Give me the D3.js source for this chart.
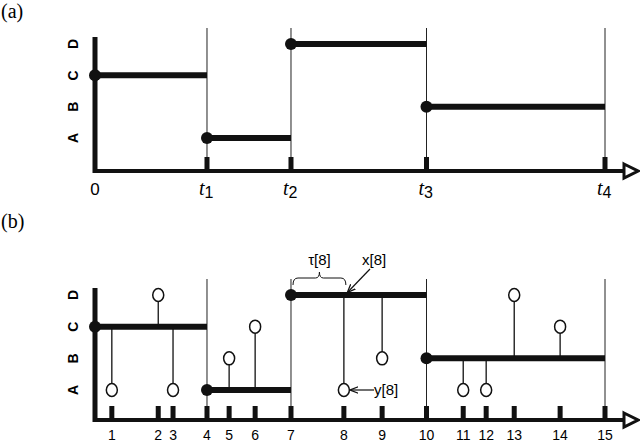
<!DOCTYPE html>
<html><head><meta charset="utf-8">
<script src="https://cdn.jsdelivr.net/npm/d3@7"></script>
<style>body{margin:0;background:#fff}svg{display:block}</style>
</head><body>
<script>
// ---- data ----
const states = ["A", "B", "C", "D"];
const switchTimes = [0, 21.96, 38.43, 65.0, 100];
const switchSubs = ["", "1", "2", "3", "4"];
const segmentStates = ["C", "A", "D", "B"];
const sampleTimes = [3.3, 12.4, 15.3, 21.96, 26.3, 31.4, 38.43, 48.8, 56.3, 65.0, 72.2, 76.7, 82.2, 91.2, 100];
const sampleLabels = ["1","2","3","4","5","6","7","8","9","10","11","12","13","14","15"];
const observations = ["A", "D", "A", null, "B", "C", null, "A", "B", null, "A", "A", "D", "C", null];

const W = 640, H = 442;
const svg = d3.select("body").append("svg").attr("width", W).attr("height", H);
const x = d3.scaleLinear().domain([0, 100]).range([95, 605]);

function stateAt(t) {
  let k = 0;
  for (let i = 0; i < segmentStates.length; i++) if (t >= switchTimes[i] - 1e-9) k = i;
  return segmentStates[k];
}

function panel(cfg) {
  const g = svg.append("g");
  const y = d3.scalePoint().domain(states).range([cfg.yA, cfg.yD]);
  // panel label
  g.append("text").attr("x", 1).attr("y", cfg.labelY).attr("font-family", "Liberation Serif, serif")
    .attr("font-size", 20).text(cfg.label);
  // vertical guide lines
  g.selectAll(".vg").data(switchTimes.slice(1)).enter().append("line")
    .attr("x1", d => x(d)).attr("x2", d => x(d)).attr("y1", cfg.vTop).attr("y2", cfg.axisY)
    .attr("stroke", "#222").attr("stroke-width", 1);
  // ticks
  g.selectAll(".tk").data(cfg.ticks).enter().append("rect")
    .attr("x", d => x(d) - 2.5).attr("y", cfg.axisY - 14).attr("width", 5).attr("height", 14).attr("fill", "#111");
  // axes
  g.append("line").attr("x1", 95).attr("x2", 95).attr("y1", cfg.yTop).attr("y2", cfg.axisY + 2)
    .attr("stroke", "#111").attr("stroke-width", 5);
  g.append("line").attr("x1", 93).attr("x2", 624).attr("y1", cfg.axisY).attr("y2", cfg.axisY)
    .attr("stroke", "#111").attr("stroke-width", 4);
  g.append("path").attr("d", `M624,${cfg.axisY - 7}L638,${cfg.axisY}L624,${cfg.axisY + 7}Z`)
    .attr("fill", "#fff").attr("stroke", "#111").attr("stroke-width", 3);
  // y labels
  g.selectAll(".yl").data(states).enter().append("text")
    .attr("transform", d => `translate(78,${y(d)}) rotate(-90)`)
    .attr("text-anchor", "middle").attr("font-family", "Liberation Sans, Arial, sans-serif")
    .attr("font-weight", "bold").attr("font-size", 14).text(d => d);
  // stems + observations
  if (cfg.obs) {
    const obsData = sampleTimes.map((t, i) => ({t, s: stateAt(t), o: observations[i]})).filter(d => d.o);
    g.selectAll(".st").data(obsData).enter().append("line")
      .attr("x1", d => x(d.t)).attr("x2", d => x(d.t)).attr("y1", d => y(d.s)).attr("y2", d => y(d.o))
      .attr("stroke", "#111").attr("stroke-width", 1.3);
  }
  // segments
  g.selectAll(".seg").data(segmentStates).enter().append("line")
    .attr("x1", (d, i) => x(switchTimes[i])).attr("x2", (d, i) => x(switchTimes[i + 1]))
    .attr("y1", d => y(d)).attr("y2", d => y(d)).attr("stroke", "#111").attr("stroke-width", 6);
  g.selectAll(".dot").data(segmentStates).enter().append("circle")
    .attr("cx", (d, i) => x(switchTimes[i])).attr("cy", d => y(d)).attr("r", 6).attr("fill", "#111");
  if (cfg.obs) {
    const obsData = sampleTimes.map((t, i) => ({t, o: observations[i]})).filter(d => d.o);
    g.selectAll(".oc").data(obsData).enter().append("ellipse")
      .attr("cx", d => x(d.t)).attr("cy", d => y(d.o)).attr("rx", 5.5).attr("ry", 6.5)
      .attr("fill", "#fff").attr("stroke", "#111").attr("stroke-width", 1.5);
  }
  return {g, y};
}

// Panel (a)
const pa = panel({label: "(a)", labelY: 18, yA: 138, yD: 44, yTop: 37, vTop: 28, axisY: 171, ticks: switchTimes.slice(1)});
switchTimes.forEach((t, i) => {
  const tx = pa.g.append("text").attr("x", x(t)).attr("y", 195).attr("text-anchor", i === 0 ? "middle" : "start");
  if (i === 0) {
    tx.attr("font-family", "Liberation Sans, Arial, sans-serif").attr("font-size", 17).text("0");
  } else {
    tx.attr("dx", -8);
    tx.append("tspan").attr("font-family", "Liberation Serif, serif").attr("font-style", "italic").attr("font-size", 20).text("t");
    tx.append("tspan").attr("font-family", "Liberation Sans, Arial, sans-serif").attr("font-size", 16).attr("dy", 3).text(switchSubs[i]);
  }
});

// Panel (b)
const pb = panel({label: "(b)", labelY: 228, yA: 390, yD: 295, yTop: 288, vTop: 279, axisY: 420, ticks: sampleTimes, obs: true});
pb.g.selectAll(".xl").data(sampleTimes).enter().append("text")
  .attr("x", d => x(d)).attr("y", 440).attr("text-anchor", "middle")
  .attr("font-family", "Liberation Sans, Arial, sans-serif").attr("font-size", 14)
  .text((d, i) => sampleLabels[i]);

// annotations for sample 8
const t8 = sampleTimes[7], t7 = sampleTimes[6];
const yD = pb.y("D"), yA8 = pb.y(observations[7]);
const bl = x(t7) + 2, br = x(t8) + 2, bm = (bl + br) / 2, by = 278;
pb.g.append("path")
  .attr("d", `M${bl},${by + 7}Q${bl},${by} ${bl + 5},${by}L${bm - 4},${by}Q${bm},${by} ${bm},${by - 6}Q${bm},${by} ${bm + 4},${by}L${br - 5},${by}Q${br},${by} ${br},${by + 7}`)
  .attr("fill", "none").attr("stroke", "#111").attr("stroke-width", 1);
pb.g.append("text").attr("x", bm).attr("y", 265).attr("text-anchor", "middle")
  .attr("font-family", "Liberation Sans, Arial, sans-serif").attr("font-size", 15).text("τ[8]");
pb.g.append("text").attr("x", 362).attr("y", 265)
  .attr("font-family", "Liberation Sans, Arial, sans-serif").attr("font-size", 15).text("x[8]");
const defs = svg.append("defs");
defs.append("marker").attr("id", "ah").attr("viewBox", "0 0 10 10").attr("refX", 9).attr("refY", 5)
  .attr("markerWidth", 7).attr("markerHeight", 7).attr("orient", "auto")
  .append("path").attr("d", "M0,1L10,5L0,9").attr("fill", "none").attr("stroke", "#111").attr("stroke-width", 1.5);
pb.g.append("line").attr("x1", 370).attr("y1", 269).attr("x2", x(t8) + 4).attr("y2", yD - 3)
  .attr("stroke", "#111").attr("stroke-width", 1.2).attr("marker-end", "url(#ah)");
pb.g.append("line").attr("x1", 374).attr("y1", yA8).attr("x2", x(t8) + 7).attr("y2", yA8)
  .attr("stroke", "#111").attr("stroke-width", 1.2).attr("marker-end", "url(#ah)");
pb.g.append("text").attr("x", 374).attr("y", yA8 + 5)
  .attr("font-family", "Liberation Sans, Arial, sans-serif").attr("font-size", 15).text("y[8]");
</script>
</body></html>
